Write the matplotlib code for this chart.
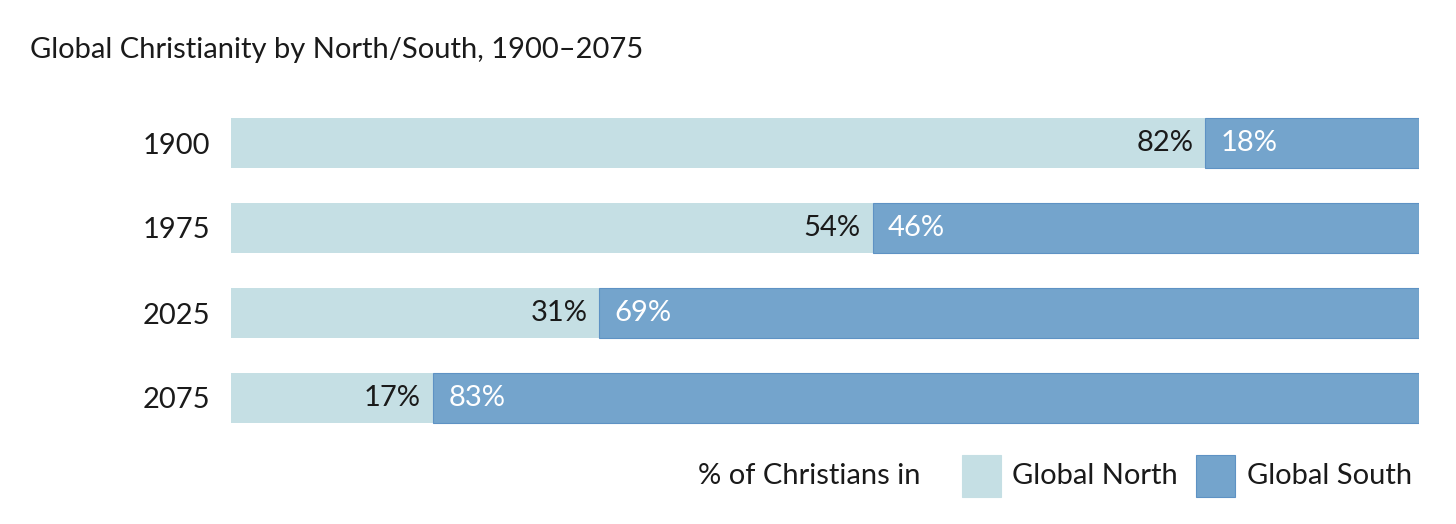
import matplotlib
matplotlib.use("Agg")
import matplotlib.pyplot as plt
from matplotlib.patches import Rectangle

years = ["1900", "1975", "2025", "2075"]
north = [82, 54, 31, 17]
south = [18, 46, 69, 83]
title = "Global Christianity by North/South, 1900\u20132075"
legend_prefix = "% of Christians in"
legend_labels = ["Global North", "Global South"]

c_north = "#C5DFE4"
c_south = "#74A4CC"
c_south_edge = "#5E92C4"
txt = "#1a1a1a"

plt.rcParams['font.family'] = ['Lato', 'DejaVu Sans']
W, H = 1456, 524
fig = plt.figure(figsize=(W/100, H/100), dpi=100)
ax = fig.add_axes([231/W, 1-440.5/H, 1188/W, 340/H])

fs = 21
ypos = list(range(len(years)))
ax.barh(ypos, north, height=0.59, color=c_north, edgecolor="none")
ax.barh(ypos, south, left=north, height=0.59, color=c_south, edgecolor=c_south_edge, linewidth=0.8)
ax.set_xlim(0, 100)
ax.set_ylim(len(years)-0.5, -0.5)
for s in ax.spines.values():
    s.set_visible(False)
ax.set_xticks([])
ax.set_yticks(ypos)
ax.set_yticklabels(years, fontsize=fs, color=txt)
ax.tick_params(axis='y', length=0, pad=15)

for y, n, s in zip(ypos, north, south):
    ax.text(n - 1.0, y, f"{n}%", ha='right', va='center', fontsize=fs, color=txt)
    ax.text(n + 1.3, y, f"{s}%", ha='left', va='center', fontsize=fs, color='white')

fig.text(30/W, 1-50/H, title, fontsize=21, color=txt, ha='left', va='center')

ly = 1 - 476/H
fig.text(920/W, ly, legend_prefix, fontsize=fs, color=txt, ha='right', va='center')
for x0, col, ec, lab, tx in [(962, c_north, c_north, legend_labels[0], 1012), (1196, c_south, c_south_edge, legend_labels[1], 1247)]:
    fig.add_artist(Rectangle((x0/W, 1-497/H), 39/W, 42/H, transform=fig.transFigure, facecolor=col, edgecolor=ec, linewidth=0.8))
    fig.text(tx/W, ly, lab, fontsize=fs, color=txt, ha='left', va='center')

fig.savefig("out.png", dpi=100, facecolor='white')
